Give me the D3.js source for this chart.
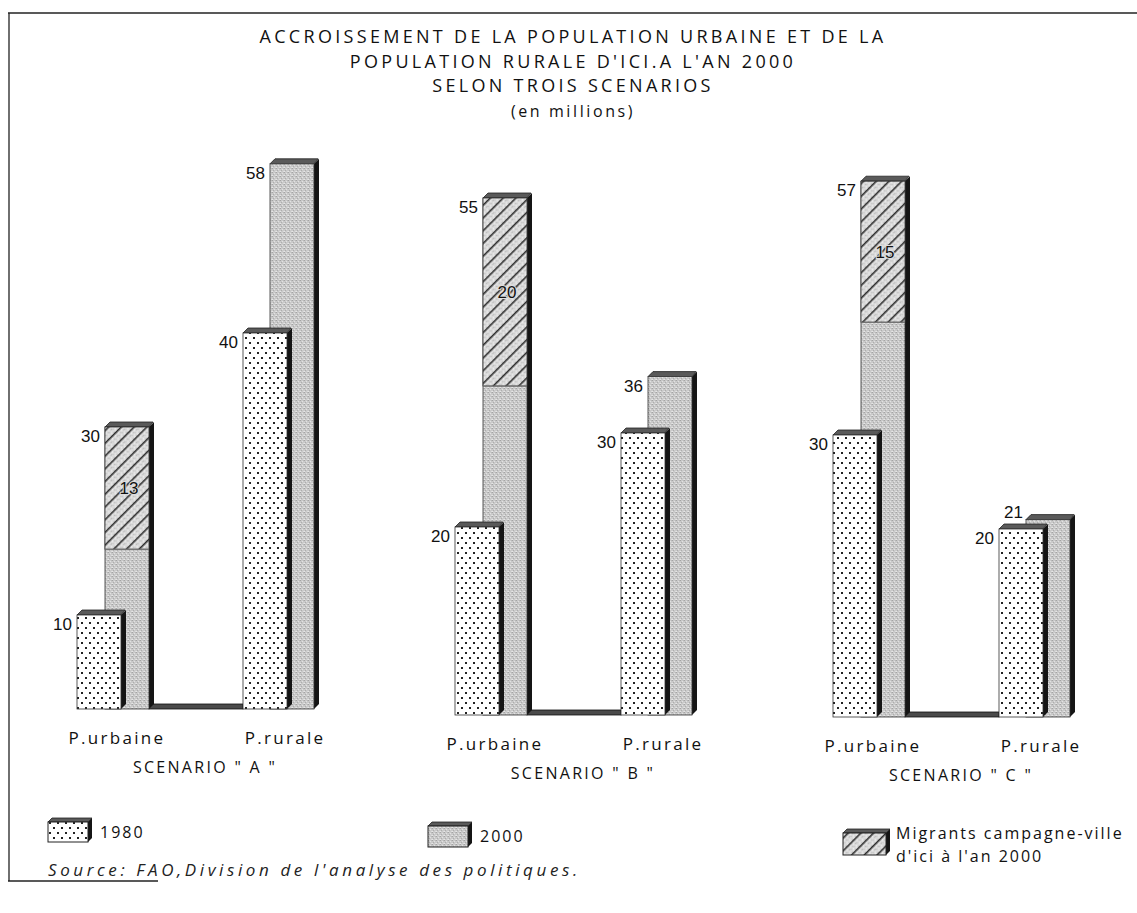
<!DOCTYPE html>
<html>
<head>
<meta charset="utf-8">
<script src="https://cdn.jsdelivr.net/npm/d3@7"></script>
<style>
  html, body { margin: 0; padding: 0; background: #fff; }
  svg { display: block; }
  .title { font-family: "Open Sans", "DejaVu Sans", sans-serif; font-size: 18px; letter-spacing: 3.3px; fill: #111; }
  .cat { font-family: "Open Sans", "DejaVu Sans", sans-serif; font-size: 17px; letter-spacing: 2.3px; fill: #111; }
  .scen { font-family: "Open Sans", "DejaVu Sans", sans-serif; font-size: 16px; letter-spacing: 2.3px; fill: #111; }
  .val { font-family: "Liberation Sans", Arial, sans-serif; font-size: 17px; fill: #111; }
  .leg { font-family: "Open Sans", "DejaVu Sans", sans-serif; font-size: 16px; letter-spacing: 2px; fill: #111; }
  .src { font-family: "Open Sans", "DejaVu Sans", sans-serif; font-size: 17px; font-style: italic; letter-spacing: 3.6px; fill: #222; }
</style>
</head>
<body>
<script>
// Population in millions, three scenarios
const scenarios   = ["A", "B", "C"];
const urban1980   = [10, 20, 30];
const urban2000   = [30, 55, 57];
const migrants    = [13, 20, 15];   // rural-to-urban migrants, part of urban 2000
const rural1980   = [40, 30, 20];
const rural2000   = [58, 36, 21];
const areaLabels  = ["P.urbaine", "P.rurale"];
const titleLines  = [
  "ACCROISSEMENT DE LA POPULATION URBAINE ET DE LA",
  "POPULATION RURALE D'ICI.A L'AN 2000",
  "SELON TROIS SCENARIOS",
  "(en millions)"
];
const legendLabels = ["1980", "2000", ["Migrants campagne-ville", "d'ici à l'an 2000"]];
const sourceText  = "Source: FAO,Division de l'analyse des politiques.";

const W = 1137, H = 913;
const svg = d3.select("body").append("svg").attr("width", W).attr("height", H);

// ---- fill patterns ----
const defs = svg.append("defs");

const dots = defs.append("pattern").attr("id", "dots")
  .attr("patternUnits", "userSpaceOnUse").attr("width", 8).attr("height", 10);
dots.append("rect").attr("width", 8).attr("height", 10).attr("fill", "#fff");
dots.append("rect").attr("x", 1).attr("y", 2).attr("width", 2).attr("height", 2).attr("fill", "#222");
dots.append("rect").attr("x", 5).attr("y", 7).attr("width", 2).attr("height", 2).attr("fill", "#222");

const grain = defs.append("pattern").attr("id", "grain")
  .attr("patternUnits", "userSpaceOnUse").attr("width", 4).attr("height", 4);
grain.append("rect").attr("width", 4).attr("height", 4).attr("fill", "#c9c9c9");
[[0,0,"#a4a4a4"],[2,1,"#e2e2e2"],[1,2,"#adadad"],[3,3,"#dcdcdc"],[3,0,"#b8b8b8"],[0,3,"#e6e6e6"]]
  .forEach(([x, y, c]) => grain.append("rect").attr("x", x).attr("y", y).attr("width", 1).attr("height", 1).attr("fill", c));

const grainLight = defs.append("pattern").attr("id", "grainLight")
  .attr("patternUnits", "userSpaceOnUse").attr("width", 4).attr("height", 4);
grainLight.append("rect").attr("width", 4).attr("height", 4).attr("fill", "#dadada");
[[0,0,"#bcbcbc"],[2,1,"#efefef"],[1,3,"#c4c4c4"],[3,2,"#ebebeb"]]
  .forEach(([x, y, c]) => grainLight.append("rect").attr("x", x).attr("y", y).attr("width", 1).attr("height", 1).attr("fill", c));

const hatch = defs.append("pattern").attr("id", "hatch")
  .attr("patternUnits", "userSpaceOnUse").attr("width", 9).attr("height", 9)
  .attr("patternTransform", "rotate(45)");
hatch.append("rect").attr("width", 9).attr("height", 9).attr("fill", "url(#grainLight)");
hatch.append("line").attr("x1", 0.8).attr("y1", 0).attr("x2", 0.8).attr("y2", 9)
  .attr("stroke", "#111").attr("stroke-width", 1.3);

// ---- frame ----
const frame = svg.append("g").attr("stroke", "#222").attr("stroke-width", 1.3);
frame.append("line").attr("x1", 8).attr("y1", 13).attr("x2", 1137).attr("y2", 13);
frame.append("line").attr("x1", 9).attr("y1", 13).attr("x2", 9).attr("y2", 881);
frame.append("line").attr("x1", 8).attr("y1", 881).attr("x2", 158).attr("y2", 881);

// ---- title ----
svg.append("text").attr("class", "title").attr("text-anchor", "middle")
  .selectAll("tspan").data(titleLines).join("tspan")
  .attr("x", 573).attr("y", (d, i) => 43 + i * 24.5)
  .style("font-size", (d, i) => i === 3 ? "16px" : null)
  .style("letter-spacing", (d, i) => i === 3 ? "2.6px" : null)
  .text(d => d);

// ---- scales ----
const x = d3.scaleBand().domain(scenarios).range([77, 77 + 378 * 3]);
const h = d3.scaleLinear().domain([0, 60]).range([0, 564]);
const groupDrop = [0, 6, 8];
const faceW = 44, depth = 5;

// slanted top and shaded right side give each bar its relief
function bar3d(g, x0, base, top, fill) {
  g.append("path")
    .attr("d", `M${x0 + faceW},${base} L${x0 + faceW + depth},${base - depth} L${x0 + faceW + depth},${top - depth} L${x0 + faceW},${top} Z`)
    .attr("fill", "#151515");
  g.append("path")
    .attr("d", `M${x0},${top} L${x0 + depth},${top - depth} L${x0 + faceW + depth - 1},${top - depth} L${x0 + faceW},${top} Z`)
    .attr("fill", "#5a5a5a").attr("stroke", "#222").attr("stroke-width", 0.8);
  g.append("rect").attr("x", x0).attr("y", top).attr("width", faceW).attr("height", base - top)
    .attr("fill", fill).attr("stroke", "#333").attr("stroke-width", 0.8);
}

function valueLabel(g, xRight, baselineY, v) {
  g.append("text").attr("class", "val").attr("text-anchor", "end")
    .attr("x", xRight).attr("y", baselineY).text(v);
}

scenarios.forEach((s, i) => {
  const g = svg.append("g");
  const x0 = x(s);
  const base = 709 + groupDrop[i];

  // floor slab joining the urban and rural pairs
  g.append("rect").attr("x", x0 + 28 + faceW).attr("y", base - 5)
    .attr("width", 166 - 28 - faceW).attr("height", 5)
    .attr("fill", "#4a4a4a").attr("stroke", "#111").attr("stroke-width", 0.8);

  // urban 2000 bar: natural growth part plus migrant part on top
  const uX = x0 + 28;
  const uTop = base - h(urban2000[i]);
  const uSplit = base - h(urban2000[i] - migrants[i]);
  bar3d(g, uX, base, uTop, "url(#grain)");
  g.append("rect").attr("x", uX).attr("y", uTop).attr("width", faceW).attr("height", uSplit - uTop)
    .attr("fill", "url(#hatch)").attr("stroke", "#333").attr("stroke-width", 0.8);
  g.append("line").attr("x1", uX).attr("x2", uX + faceW).attr("y1", uSplit).attr("y2", uSplit)
    .attr("stroke", "#777").attr("stroke-width", 1);
  g.append("text").attr("class", "val").attr("text-anchor", "middle")
    .attr("x", uX + faceW / 2 + 2).attr("y", (uTop + uSplit) / 2 + 6)
    .style("paint-order", "stroke").attr("stroke", "#ddd").attr("stroke-width", 2)
    .text(migrants[i]);
  valueLabel(g, uX - 5, uTop + 15, urban2000[i]);

  // urban 1980 bar
  const u80Top = base - h(urban1980[i]);
  bar3d(g, x0, base, u80Top, "url(#dots)");
  valueLabel(g, x0 - 5, u80Top + 15, urban1980[i]);

  // rural 2000 bar
  const rX = x0 + 193;
  const rTop = base - h(rural2000[i]);
  bar3d(g, rX, base, rTop, "url(#grain)");

  // rural 1980 bar
  const r8X = x0 + 166;
  const r8Top = base - h(rural1980[i]);
  bar3d(g, r8X, base, r8Top, "url(#dots)");
  valueLabel(g, r8X - 5, r8Top + 15, rural1980[i]);

  // rural 2000 label: beside its bar, or lifted above the 1980 bar when the two tops are close
  const lift = r8Top - rTop < 22;
  valueLabel(g, lift ? rX - 3 : rX - 5, lift ? r8Top - 11 : rTop + 15, rural2000[i]);

  // category and scenario captions
  g.append("text").attr("class", "cat").attr("text-anchor", "middle")
    .attr("x", x0 + 40).attr("y", base + 35).text(areaLabels[0]);
  g.append("text").attr("class", "cat").attr("text-anchor", "middle")
    .attr("x", x0 + 208).attr("y", base + 35).text(areaLabels[1]);
  g.append("text").attr("class", "scen").attr("text-anchor", "middle")
    .attr("x", x0 + 128).attr("y", base + 64).text(`SCENARIO " ${s} "`);
});

// ---- legend ----
const legendItems = [
  { x: 48,  y: 822, w: 40, hgt: 20, fill: "url(#dots)" },
  { x: 428, y: 826, w: 40, hgt: 21, fill: "url(#grain)" },
  { x: 843, y: 833, w: 43, hgt: 22, fill: "url(#hatch)" }
];
legendItems.forEach((it, i) => {
  const g = svg.append("g");
  g.append("path")
    .attr("d", `M${it.x + it.w},${it.y + it.hgt} L${it.x + it.w + 4},${it.y + it.hgt - 4} L${it.x + it.w + 4},${it.y - 4} L${it.x + it.w},${it.y} Z`)
    .attr("fill", "#151515");
  g.append("path")
    .attr("d", `M${it.x},${it.y} L${it.x + 4},${it.y - 4} L${it.x + it.w + 4},${it.y - 4} L${it.x + it.w},${it.y} Z`)
    .attr("fill", "#5a5a5a").attr("stroke", "#222").attr("stroke-width", 0.8);
  g.append("rect").attr("x", it.x).attr("y", it.y).attr("width", it.w).attr("height", it.hgt)
    .attr("fill", it.fill).attr("stroke", "#222").attr("stroke-width", 1);
  const lbl = legendLabels[i];
  if (Array.isArray(lbl)) {
    g.append("text").attr("class", "leg")
      .selectAll("tspan").data(lbl).join("tspan")
      .attr("x", it.x + it.w + 10).attr("y", (d, j) => it.y + 6 + j * 23).text(d => d);
  } else {
    g.append("text").attr("class", "leg").attr("x", it.x + it.w + 12).attr("y", it.y + 16).text(lbl);
  }
});

// ---- source ----
svg.append("text").attr("class", "src").attr("x", 48).attr("y", 876).text(sourceText);
</script>
</body>
</html>
